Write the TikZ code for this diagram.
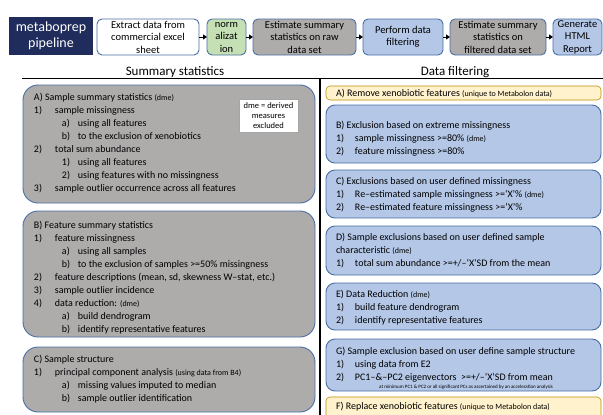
\documentclass[tikz,border=0pt]{standalone}
\usepackage{fontspec}
\setmainfont{Carlito}
\usetikzlibrary{arrows.meta}
\definecolor{navy}{HTML}{1F2C5C}
\definecolor{bord}{HTML}{4A6FA5}
\definecolor{grayfill}{HTML}{AEABAB}
\definecolor{bluefill}{HTML}{B4C7E7}
\definecolor{greenfill}{HTML}{C5E0B4}
\definecolor{yellowfill}{HTML}{FFF2CC}
\definecolor{yellowbord}{HTML}{BF9000}
\newcommand{\LevOne}[2]{\makebox[21pt][l]{#1}#2}
\newcommand{\LevTwo}[2]{\hspace{28pt}\makebox[16pt][l]{#1}#2}
\newcommand{\RLev}[2]{\makebox[19pt][l]{#1}#2}
\newcommand{\smtxt}[1]{{\fontsize{8}{9}\selectfont #1}}
\begin{document}
\begin{tikzpicture}[x=1pt,y=-1pt,
  every node/.style={inner sep=0pt, outer sep=0pt},
  topbox/.style={draw=bord, line width=0.9pt, rounded corners=5pt, anchor=north west, align=center, font=\fontsize{10.5}{12.5}\selectfont, minimum height=36pt},
  bigbox/.style={draw=bord, line width=0.9pt, rounded corners=15pt, anchor=north west, fill=grayfill, minimum width=292pt},
  rbox/.style={draw=bord, line width=0.9pt, rounded corners=9pt, anchor=north west, fill=bluefill, minimum width=275pt},
  ybox/.style={draw=yellowbord, line width=0.6pt, rounded corners=4pt, anchor=north west, fill=yellowfill, minimum width=275pt},
  txt/.style={anchor=north west, align=left, font=\fontsize{10}{13.1}\selectfont},
  header/.style={font=\fontsize{13}{15}\selectfont},
  flow/.style={-{Triangle[length=4pt,width=5pt]}, line width=0.8pt, black}
]
\useasboundingbox (0,0) rectangle (603,415);
\clip (0,0) rectangle (603,415);
\fill[white] (0,0) rectangle (603,415);

% ---- pipeline row ----
\node[fill=navy, text=white, anchor=north west, minimum width=84pt, minimum height=38pt, align=center, font=\fontsize{14}{16}\selectfont] (title) at (9,17) {metaboprep\\pipeline};
\node[topbox, fill=white, minimum width=102pt] (extract) at (97,19) {Extract data from\\commercial excel\\sheet};
\node[topbox, fill=greenfill, minimum width=39pt] (norm) at (207,19) {norm\\alizat\\ion};
\node[topbox, fill=grayfill, minimum width=103pt] (est1) at (253,19) {Estimate summary\\statistics on raw\\data set};
\node[topbox, fill=bluefill, minimum width=80pt] (filt) at (363,19) {Perform data\\filtering};
\node[topbox, fill=grayfill, minimum width=96pt] (est2) at (450,19) {Estimate summary\\statistics on\\filtered data set};
\node[topbox, fill=bluefill, minimum width=49pt] (gen) at (553,19) {Generate\\HTML\\Report};
\draw[flow] (extract.east) -- (norm.west);
\draw[flow] (norm.east) -- (est1.west);
\draw[flow] (est1.east) -- (filt.west);
\draw[flow] (filt.east) -- (est2.west);
\draw[flow] (est2.east) -- (gen.west);

% ---- headers and rules ----
\node[header] (hsum) at (175,72) {Summary statistics};
\node[header] (hfilt) at (455,72) {Data filtering};
\coordinate (rl) at (22,78);
\coordinate (rr) at (603,78);
\coordinate (vt) at (320,78);
\coordinate (vb) at (320,415);
\draw[line width=0.8pt] (rl) -- (rr);
\draw[line width=1.5pt] (vt) -- (vb);

% ---- left column ----
\node[bigbox, minimum height=118pt] (lA) at (23,85) {};
\node[txt] (lAt) at (34,91) {\begin{tabular}{@{}l@{}}
A) Sample summary statistics \smtxt{(dme)}\\
\LevOne{1)}{sample missingness}\\
\LevTwo{a)}{using all features}\\
\LevTwo{b)}{to the exclusion of xenobiotics}\\
\LevOne{2)}{total sum abundance}\\
\LevTwo{1)}{using all features}\\
\LevTwo{2)}{using features with no missingness}\\
\LevOne{3)}{sample outlier occurrence across all features}
\end{tabular}};
\node[draw=gray!70, line width=0.5pt, fill=white, anchor=north west, minimum width=59pt, minimum height=33pt, align=center, font=\fontsize{8.5}{10}\selectfont] (dme) at (239,99) {dme = derived\\measures\\excluded};

\node[bigbox, minimum height=126pt] (lB) at (23,211) {};
\node[txt] (lBt) at (34,219) {\begin{tabular}{@{}l@{}}
B) Feature summary statistics\\
\LevOne{1)}{feature missingness}\\
\LevTwo{a)}{using all samples}\\
\LevTwo{b)}{to the exclusion of samples >=50\% missingness}\\
\LevOne{2)}{feature descriptions (mean, sd, skewness W–stat, etc.)}\\
\LevOne{3)}{sample outlier incidence}\\
\LevOne{4)}{data reduction: \smtxt{(dme)}}\\
\LevTwo{a)}{build dendrogram}\\
\LevTwo{b)}{identify representative features}
\end{tabular}};

\node[bigbox, minimum height=65pt] (lC) at (23,347) {};
\node[txt] (lCt) at (34,353) {\begin{tabular}{@{}l@{}}
C) Sample structure\\
\LevOne{1)}{principal component analysis \smtxt{(using data from B4)}}\\
\LevTwo{a)}{missing values imputed to median}\\
\LevTwo{b)}{sample outlier identification}
\end{tabular}};

% ---- right column ----
\node[ybox, minimum height=14pt] (rA) at (326,86) {};
\node[anchor=west, font=\fontsize{10}{12}\selectfont] (rAt) at (336,93.5) {A) Remove xenobiotic features \smtxt{(unique to Metabolon data)}};

\node[rbox, minimum height=58pt] (rB) at (326,105) {};
\node[txt] (rBt) at (336,119.5) {\begin{tabular}{@{}l@{}}
B) Exclusion based on extreme missingness\\
\RLev{1)}{sample missingness >=80\% \smtxt{(dme)}}\\
\RLev{2)}{feature missingness >=80\%}
\end{tabular}};

\node[rbox, minimum height=48pt] (rC) at (326,170) {};
\node[txt] (rCt) at (336,175.5) {\begin{tabular}{@{}l@{}}
C) Exclusions based on user defined missingness\\
\RLev{1)}{Re–estimated sample missingness >=`X'\% \smtxt{(dme)}}\\
\RLev{2)}{Re–estimated feature missingness >=`X'\%}
\end{tabular}};

\node[rbox, minimum height=49pt] (rD) at (326,226) {};
\node[txt] (rDt) at (336,231.5) {\begin{tabular}{@{}l@{}}
D) Sample exclusions based on user defined sample\\
characteristic \smtxt{(dme)}\\
\RLev{1)}{total sum abundance >=+/–`X'SD from the mean}
\end{tabular}};

\node[rbox, minimum height=47pt] (rE) at (326,283) {};
\node[txt] (rEt) at (336,288.5) {\begin{tabular}{@{}l@{}}
E) Data Reduction \smtxt{(dme)}\\
\RLev{1)}{build feature dendrogram}\\
\RLev{2)}{identify representative features}
\end{tabular}};

\node[rbox, minimum height=52pt] (rG) at (326,339) {};
\node[txt] (rGt) at (336,345.5) {\begin{tabular}{@{}l@{}}
G) Sample exclusion based on user define sample structure\\
\RLev{1)}{using data from E2}\\
\RLev{2)}{PC1–\&–PC2 eigenvectors\ \ >=+/–`X'SD from mean}
\end{tabular}};
\node[font=\fontsize{5}{6}\selectfont] (rGn) at (466,387) {at minimum PC1 \& PC2 or all significant PCs as ascertained by an acceleration analysis};

\node[ybox, minimum height=24pt] (rF) at (326,397) {};
\node[anchor=west, font=\fontsize{10}{12}\selectfont] (rFt) at (336,407) {F) Replace xenobiotic features \smtxt{(unique to Metabolon data)}};
\end{tikzpicture}
\end{document}
